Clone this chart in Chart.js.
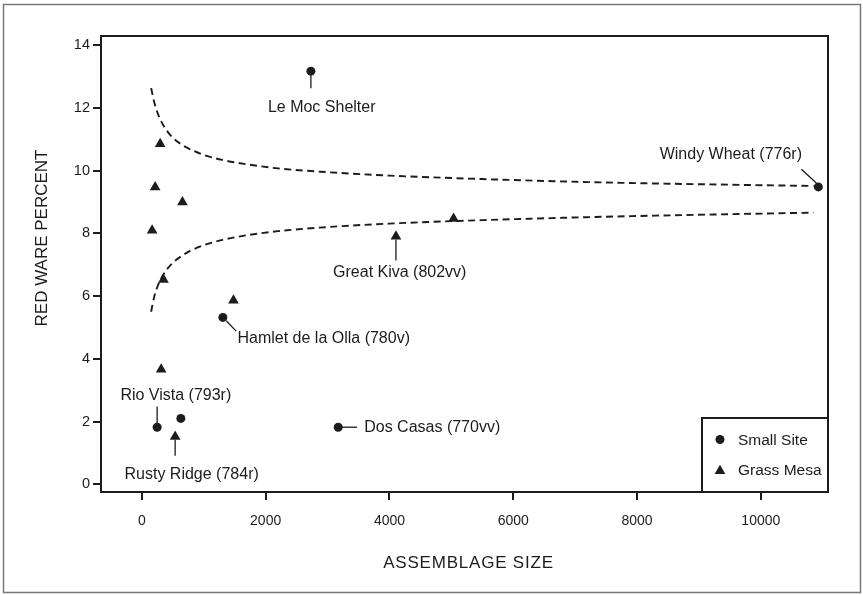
<!DOCTYPE html>
<html><head><meta charset="utf-8">
<script src="https://cdn.jsdelivr.net/npm/chart.js@4/dist/chart.umd.min.js"></script>
<style>html,body{margin:0;padding:0;background:#fff}#wrap{width:863px;height:595px;position:relative}</style>
</head><body><div id="wrap"><canvas id="c" width="863" height="595"></canvas></div>
<script>
// ---- data ----
const smallSiteX = [2731, 10929, 1309, 247, 630, 3172];
const smallSiteY = [13.17, 9.48, 5.32, 1.82, 2.10, 1.82];
const grassMesaX = [296, 215, 656, 166, 349, 1480, 312, 538, 5036, 4105];
const grassMesaY = [10.85, 9.47, 8.99, 8.09, 6.52, 5.86, 3.66, 1.52, 8.47, 7.90];
const curveX  = [150, 175, 200, 250, 300, 400, 500, 650, 800, 1000, 1300, 1700, 2200, 3000, 4000, 5500, 7500, 9500, 10850];
const upperY  = [12.63, 12.40, 12.18, 11.86, 11.62, 11.28, 11.05, 10.82, 10.66, 10.50, 10.34, 10.20, 10.07, 9.95, 9.84, 9.73, 9.62, 9.55, 9.51];
const lowerY  = [5.50, 5.76, 5.98, 6.29, 6.52, 6.84, 7.06, 7.29, 7.46, 7.62, 7.79, 7.94, 8.07, 8.20, 8.31, 8.42, 8.53, 8.61, 8.66];
const xTicks = [0, 2000, 4000, 6000, 8000, 10000];
const yTicks = [0, 2, 4, 6, 8, 10, 12, 14];
const seriesNames = ['Small Site', 'Grass Mesa'];
const xTitle = 'ASSEMBLAGE SIZE';
const yTitle = 'RED WARE PERCENT';
const siteLabels = ['Le Moc Shelter', 'Windy Wheat (776r)', 'Hamlet de la Olla (780v)', 'Rio Vista (793r)', 'Rusty Ridge (784r)', 'Dos Casas (770vv)', 'Great Kiva (802vv)'];

const FONT = "'Liberation Sans', Arial, Helvetica, sans-serif";
const INK = '#1c1c1c';

function pts(xs, ys) { return xs.map((x, i) => ({x: x, y: ys[i]})); }

// annotation layout: anchored to a data point (dataset, index), pixel offsets
const annotLayout = [
  {ds: 0, i: 0, line: [0, 4, 0, 17], text: [10.8, 36.3], align: 'center'},
  {ds: 0, i: 1, line: [-17, -17.7, -2, -4], text: [-87.5, -32], align: 'center'},
  {ds: 0, i: 2, line: [3.3, 3.4, 13.3, 13.7], text: [14.6, 21], align: 'left'},
  {ds: 0, i: 3, line: [0, -20.6, 0, -4], text: [18.7, -31.6], align: 'center'},
  {ds: 1, i: 7, line: [0, 3, 0, 19], text: [16.5, 37.6], align: 'center'},
  {ds: 0, i: 5, line: [3, 0, 19, 0], text: [26, 0], align: 'left'},
  {ds: 1, i: 9, line: [0, 3, 0, 24], text: [3.8, 36.3], align: 'center'}
];

const decor = {
  id: 'decor',
  afterDraw(chart) {
    const ctx = chart.ctx, a = chart.chartArea;
    const sx = chart.scales.x, sy = chart.scales.y;
    ctx.save();
    // outer frame
    ctx.strokeStyle = '#777'; ctx.lineWidth = 1.5;
    ctx.strokeRect(3.5, 4.5, 857, 588);
    // plot box
    ctx.strokeStyle = INK; ctx.lineWidth = 2;
    ctx.strokeRect(a.left, a.top, a.right - a.left, a.bottom - a.top);
    // axis titles
    ctx.fillStyle = INK; ctx.textBaseline = 'middle'; ctx.textAlign = 'center';
    ctx.font = '17px ' + FONT;
    ctx.letterSpacing = '0.8px';
    ctx.fillText(xTitle, (a.left + a.right) / 2 + 4, 563.5);
    ctx.letterSpacing = '0px';
    ctx.save();
    ctx.translate(42, 238);
    ctx.rotate(-Math.PI / 2);
    ctx.fillText(yTitle, 0, 0);
    ctx.restore();
    // annotations
    ctx.font = '16px ' + FONT;
    ctx.fillStyle = INK; ctx.textBaseline = 'middle';
    ctx.lineWidth = 1.3;
    annotLayout.forEach((an, k) => {
      const xs = an.ds === 0 ? smallSiteX : grassMesaX;
      const ys = an.ds === 0 ? smallSiteY : grassMesaY;
      const px = sx.getPixelForValue(xs[an.i]);
      const py = sy.getPixelForValue(ys[an.i]);
      ctx.beginPath();
      ctx.moveTo(px + an.line[0], py + an.line[1]);
      ctx.lineTo(px + an.line[2], py + an.line[3]);
      ctx.stroke();
      ctx.textAlign = an.align;
      ctx.fillText(siteLabels[k], px + an.text[0], py + an.text[1]);
    });
    // legend box
    const w = 126, h = 74;
    const lx = a.right - w, ly = a.bottom - h;
    ctx.fillStyle = '#fff';
    ctx.fillRect(lx, ly, w, h);
    ctx.strokeStyle = INK; ctx.lineWidth = 2;
    ctx.strokeRect(lx, ly, w, h);
    ctx.fillStyle = INK;
    ctx.beginPath(); ctx.arc(lx + 18, ly + 21.5, 4.5, 0, Math.PI * 2); ctx.fill();
    const tx = lx + 18, ty = ly + 53, r = 6.2;
    ctx.beginPath();
    ctx.moveTo(tx, ty - r);
    ctx.lineTo(tx + r * 0.866, ty + r * 0.5);
    ctx.lineTo(tx - r * 0.866, ty + r * 0.5);
    ctx.closePath(); ctx.fill();
    ctx.textAlign = 'left'; ctx.textBaseline = 'middle';
    ctx.font = '15.5px ' + FONT;
    ctx.fillText(seriesNames[0], lx + 36, ly + 23);
    ctx.fillText(seriesNames[1], lx + 36, ly + 52.5);
    ctx.restore();
  }
};

new Chart(document.getElementById('c'), {
  type: 'scatter',
  data: {
    datasets: [
      {label: seriesNames[0], data: pts(smallSiteX, smallSiteY), pointStyle: 'circle', pointRadius: 4.5,
       backgroundColor: INK, borderColor: INK, borderWidth: 0},
      {label: seriesNames[1], data: pts(grassMesaX, grassMesaY), pointStyle: 'triangle', pointRadius: 6.2,
       backgroundColor: INK, borderColor: INK, borderWidth: 0},
      {label: 'upper', data: pts(curveX, upperY), showLine: true, pointRadius: 0, borderColor: INK,
       borderWidth: 1.9, borderDash: [7, 4.5], cubicInterpolationMode: 'monotone', fill: false},
      {label: 'lower', data: pts(curveX, lowerY), showLine: true, pointRadius: 0, borderColor: INK,
       borderWidth: 1.9, borderDash: [7, 4.5], cubicInterpolationMode: 'monotone', fill: false}
    ]
  },
  options: {
    responsive: false, animation: false, devicePixelRatio: 1,
    layout: {padding: {top: 36, right: 35, bottom: 0, left: 0}},
    plugins: {legend: {display: false}, tooltip: {enabled: false}},
    scales: {
      x: {
        type: 'linear', min: -660, max: 11085,
        afterFit: s => { s.height = 103; },
        afterBuildTicks: s => { s.ticks = xTicks.map(v => ({value: v})); },
        grid: {drawOnChartArea: false, drawTicks: true, tickLength: 8, color: INK, lineWidth: 2},
        border: {display: true, color: INK, width: 2},
        ticks: {font: {family: FONT, size: 14}, color: INK, padding: 13, maxRotation: 0, callback: v => String(v)}
      },
      y: {
        type: 'linear', min: -0.245, max: 14.29,
        afterFit: s => { s.width = 101; },
        afterBuildTicks: s => { s.ticks = yTicks.map(v => ({value: v})); },
        grid: {drawOnChartArea: false, drawTicks: true, tickLength: 8, color: INK, lineWidth: 2},
        border: {display: true, color: INK, width: 2},
        ticks: {font: {family: FONT, size: 14.5}, color: INK, padding: 3, callback: v => String(v)}
      }
    }
  },
  plugins: [decor]
});
</script>
</body></html>
